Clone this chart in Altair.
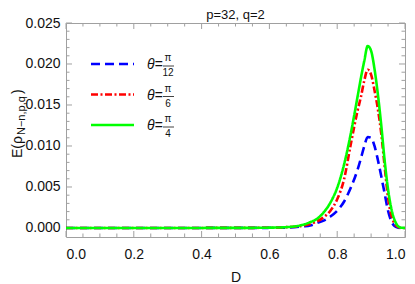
import altair as alt
import pandas as pd

# ---------------- data ----------------
D_VALUES = [0.0, 0.5, 0.6, 0.65, 0.70, 0.72, 0.74, 0.76, 0.78, 0.80, 0.82, 0.84, 0.86,
            0.87, 0.88, 0.89, 0.90, 0.91, 0.92, 0.93, 0.94, 0.95, 0.96, 0.97, 0.98, 0.99, 1.0]
E_PI12 = [0, 0.00001, 0.00002, 0.00005, 0.0002, 0.0003, 0.0006, 0.0009, 0.0014, 0.0021, 0.0032,
          0.0049, 0.0071, 0.0085, 0.0100, 0.0111, 0.0110, 0.0100, 0.0083, 0.0063, 0.0042,
          0.0021, 0.0008, 0.0002, 0.00003, 0, 0]
E_PI6 = [0, 0.00001, 0.00003, 0.0001, 0.0003, 0.0005, 0.0008, 0.0013, 0.0021, 0.0035, 0.0059,
         0.0102, 0.0143, 0.0160, 0.0180, 0.0193, 0.0187, 0.0168, 0.0145, 0.0115, 0.0075,
         0.0037, 0.0015, 0.0005, 0.0001, 0, 0]
E_PI4 = [0, 0.00001, 0.00004, 0.0001, 0.0004, 0.0007, 0.0011, 0.0019, 0.0031, 0.0049, 0.0077,
         0.0115, 0.0160, 0.0183, 0.0204, 0.0222, 0.0216, 0.0194, 0.0163, 0.0125, 0.0082,
         0.0047, 0.0023, 0.0009, 0.0002, 0.00003, 0]

SERIES = ["θ=π/12", "θ=π/6", "θ=π/4"]
LEGEND_LHS = ["θ=", "θ=", "θ="]
NUMERATORS = ["π", "π", "π"]
DENOMINATORS = ["12", "6", "4"]
TITLE = "p=32, q=2"
X_TITLE = "D"
Y_TITLE_MAIN = "E(ρ"
Y_TITLE_SUB = "N−n,p,q"
Y_TITLE_CLOSE = ")"

X_TICKS = [0.0, 0.2, 0.4, 0.6, 0.8, 1.0]
X_MINOR = [0.05, 0.1, 0.15, 0.25, 0.3, 0.35, 0.45, 0.5, 0.55, 0.65, 0.7, 0.75, 0.85, 0.9, 0.95]
Y_TICKS = [0.0, 0.005, 0.010, 0.015, 0.020, 0.025]
Y_MINOR = [0.001, 0.002, 0.003, 0.004, 0.006, 0.007, 0.008, 0.009, 0.011, 0.012, 0.013, 0.014,
           0.016, 0.017, 0.018, 0.019, 0.021, 0.022, 0.023, 0.024]

# ---------------- styling ----------------
W, H = 339, 214
GRAY = "#a0a0a0"
TXT = "#111111"
FONT = "Liberation Sans"
COLORS = ["#0000ff", "#ff0000", "#00ff00"]
DASHES = [[9, 5], [7, 2.5, 2, 2.5], [1, 0]]
WIDTHS = [2.6, 2.6, 1.6]

rows = []
for s, vals in zip(SERIES, [E_PI12, E_PI6, E_PI4]):
    for d, e in zip(D_VALUES, vals):
        rows.append({"series": s, "D": d, "E": e})
df = pd.DataFrame(rows)

x_scale = alt.Scale(domain=[0, 1], nice=False, zero=False)
y_scale = alt.Scale(domain=[-0.0011, 0.025], nice=False, zero=False)
color_scale = alt.Scale(domain=SERIES, range=COLORS)
dash_scale = alt.Scale(domain=SERIES, range=DASHES)
width_scale = alt.Scale(domain=SERIES, range=WIDTHS)

x_axis = alt.Axis(values=X_TICKS, format=".1f", ticks=False, tickSize=0, domain=False, grid=False,
                  labelFont=FONT, labelFontSize=14, labelColor=TXT, labelPadding=10,
                  title=X_TITLE, titleFont=FONT, titleFontSize=14, titleFontWeight="normal",
                  titleColor=TXT, titlePadding=9)
y_axis = alt.Axis(values=Y_TICKS, format=".3f", ticks=False, tickSize=0, domain=False, grid=False,
                  labelFont=FONT, labelFontSize=14, labelColor=TXT, labelPadding=6, title=None)

X = alt.X("D:Q", scale=x_scale, axis=x_axis)
Y = alt.Y("E:Q", scale=y_scale, axis=y_axis)
C = alt.Color("series:N", scale=color_scale, legend=None)
SD = alt.StrokeDash("series:N", scale=dash_scale, legend=None)
SW = alt.StrokeWidth("series:N", scale=width_scale, legend=None)


def series_line(s):
    return (alt.Chart(df).transform_filter(alt.datum.series == s)
            .mark_line(interpolate="monotone", clip=True)
            .encode(x=X, y=Y, color=C, strokeDash=SD, strokeWidth=SW))


def x_ticks(values, length, top):
    y0, y1 = (0, length) if top else (H, H - length)
    return (alt.Chart(pd.DataFrame({"D": values})).mark_rule(color=GRAY, strokeWidth=1)
            .encode(x=X, y=alt.value(y0), y2=alt.value(y1)))


def y_ticks(values, length, right):
    x0, x1 = (W, W - length) if right else (0, length)
    return (alt.Chart(pd.DataFrame({"E": values})).mark_rule(color=GRAY, strokeWidth=1)
            .encode(y=Y, x=alt.value(x0), x2=alt.value(x1)))


main = alt.layer(
    x_ticks(X_TICKS, 6, False), x_ticks(X_MINOR, 3.5, False),
    x_ticks(X_TICKS, 6, True), x_ticks(X_MINOR, 3.5, True),
    y_ticks(Y_TICKS, 6, False), y_ticks(Y_MINOR, 3.5, False),
    y_ticks(Y_TICKS, 6, True), y_ticks(Y_MINOR, 3.5, True),
    *[series_line(s) for s in SERIES],
)

leg = pd.DataFrame({"series": SERIES, "row": [0, 1, 2], "lhs": LEGEND_LHS,
                    "num": NUMERATORS, "den": DENOMINATORS})
ROW = alt.Y("row:Q", scale=alt.Scale(domain=[0, 2], range=[41, 102]), axis=None)

sym = alt.Chart(leg).mark_rule().encode(x=alt.value(25), x2=alt.value(68), y=ROW,
                                        color=C, strokeDash=SD, strokeWidth=SW)
lhs = alt.Chart(leg).mark_text(align="left", baseline="middle", font=FONT, fontSize=14,
                               fontStyle="italic", color=TXT, dy=1).encode(
    x=alt.value(81), y=ROW, text="lhs:N")
num = alt.Chart(leg).mark_text(align="center", baseline="middle", font=FONT, fontSize=10,
                               color=TXT, dy=-6).encode(x=alt.value(102), y=ROW, text="num:N")
den = alt.Chart(leg).mark_text(align="center", baseline="middle", font=FONT, fontSize=10,
                               color=TXT, dy=9).encode(x=alt.value(102), y=ROW, text="den:N")
bar = alt.Chart(leg).mark_rule(color=TXT, strokeWidth=0.8, yOffset=2).encode(
    x=alt.value(97), x2=alt.value(108), y=ROW)

YT_X, YT_Y = -44, 135
yt = pd.DataFrame({"main": [Y_TITLE_MAIN], "sub": [Y_TITLE_SUB], "close": [Y_TITLE_CLOSE]})
yt_main = alt.Chart(yt).mark_text(angle=270, align="left", baseline="alphabetic", font=FONT,
                                  fontSize=14, color=TXT).encode(
    x=alt.value(YT_X), y=alt.value(YT_Y), text="main:N")
yt_sub = alt.Chart(yt).mark_text(angle=270, align="left", baseline="alphabetic", font=FONT,
                                 fontSize=11, color=TXT, dx=23, dy=3).encode(
    x=alt.value(YT_X), y=alt.value(YT_Y), text="sub:N")
yt_close = alt.Chart(yt).mark_text(angle=270, align="left", baseline="alphabetic", font=FONT,
                                   fontSize=14, color=TXT, dx=64).encode(
    x=alt.value(YT_X), y=alt.value(YT_Y), text="close:N")

overlay = alt.layer(sym, lhs, num, den, bar, yt_main, yt_sub, yt_close)

chart = (alt.layer(main, overlay)
         .resolve_scale(y="independent")
         .properties(width=W, height=H,
                     title=alt.TitleParams(TITLE, font=FONT, fontSize=13, fontWeight="normal",
                                           color=TXT, offset=-6),
                     autosize=alt.AutoSizeParams(type="none"),
                     padding={"left": 58, "top": 15, "right": 2, "bottom": 47})
         .configure_view(stroke=GRAY, strokeWidth=1))

chart.save("out.html", embed_options={"renderer": "svg", "actions": False})
